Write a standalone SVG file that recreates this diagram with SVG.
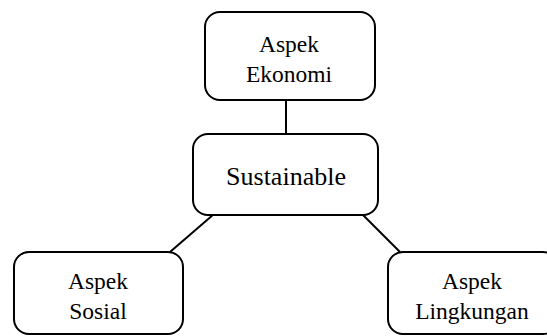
<svg xmlns="http://www.w3.org/2000/svg" width="547" height="336" viewBox="0 0 547 336">
<style>
.box{fill:#fff;stroke:#000;stroke-width:2}
.t{font-family:"Liberation Serif","Times New Roman",serif;font-size:23.5px;fill:#000;text-anchor:middle}
.c{stroke:#000;stroke-width:2;fill:none}
</style>
<rect width="547" height="336" fill="#fff"/>
<g id="connectors">
<line class="c" x1="286" y1="100" x2="286" y2="134"/>
<line class="c" x1="214" y1="214" x2="170" y2="252"/>
<line class="c" x1="362" y1="214" x2="400" y2="252"/>
</g>
<g id="ekonomi">
<rect class="box" x="205" y="12" width="170" height="88" rx="15"/>
<text class="t" x="289" y="52">Aspek</text>
<text class="t" x="289" y="82">Ekonomi</text>
</g>
<g id="sustainable">
<rect class="box" x="193" y="134" width="185" height="81" rx="15"/>
<text class="t" x="286" y="185" style="font-size:26px">Sustainable</text>
</g>
<g id="sosial">
<rect class="box" x="14" y="252" width="169" height="82" rx="15"/>
<text class="t" x="98" y="289">Aspek</text>
<text class="t" x="98" y="319">Sosial</text>
</g>
<g id="lingkungan">
<rect class="box" x="388" y="252" width="170" height="82" rx="15"/>
<text class="t" x="472" y="289">Aspek</text>
<text class="t" x="472" y="319">Lingkungan</text>
</g>
</svg>
